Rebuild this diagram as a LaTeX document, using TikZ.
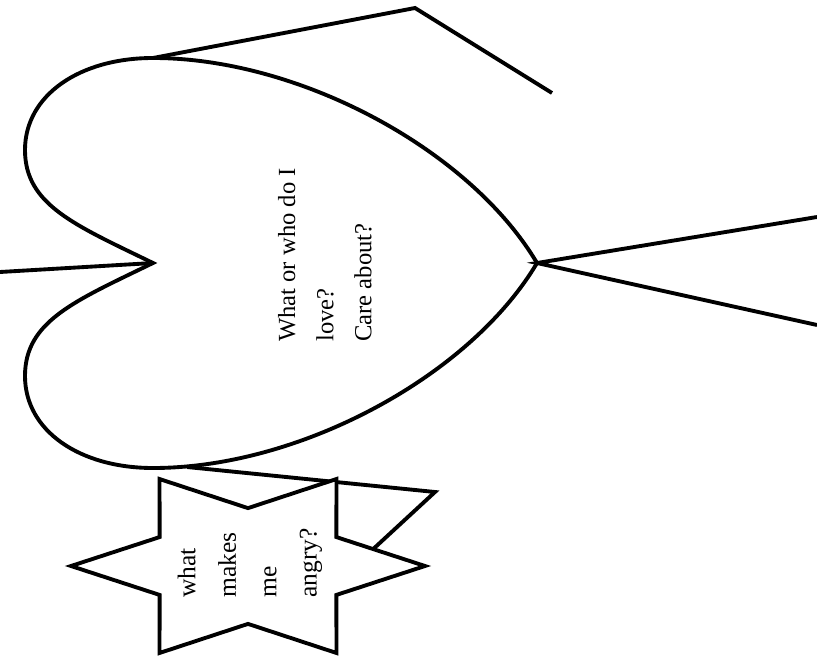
\documentclass[tikz,border=0pt]{standalone}
\usepackage{fontspec}
\setmainfont{Liberation Serif}

\begin{document}
\begin{tikzpicture}[x=0.02cm,y=-0.02cm,line width=2.2pt,
        question/.style={rotate=90,align=left,font=\fontsize{14.5}{23}\selectfont}]
        \useasboundingbox (0,0) rectangle (817,655);
        % heart lying on its side
        \coordinate (notch) at (153,263);
        \coordinate (tip) at (537,263);
        \coordinate (top) at (153,58);
        \coordinate (bot) at (153,468);
        \draw (notch) .. controls (75,225) and (25,205) .. (25,150)
            .. controls (25,95) and (80,58) .. (top)
            .. controls (300,58) and (470,150) .. (tip)
            .. controls (470,376) and (300,468) .. (bot)
            .. controls (80,468) and (25,431) .. (25,376)
            .. controls (25,321) and (75,301) .. (notch) -- cycle;
        \node[question,font=\fontsize{14}{21.7}\selectfont] (love) at (325,255)
            {What or who do I\\love?\\Care about?};
        % loose ends
        \coordinate (west) at (0,272);
        \coordinate (nbend) at (415,8);
        \coordinate (nend) at (552,93);
        \coordinate (eup) at (817,217);
        \coordinate (edown) at (817,325);
        \coordinate (sfoot) at (187,467);
        \coordinate (sbend) at (435,492);
        \coordinate (send) at (370,552);
        \draw (west) -- (notch);
        \draw (top) -- (nbend) -- (nend);
        \draw (eup) -- (tip) -- (edown);
        \draw (sfoot) -- (sbend) -- (send);
        % star
        \draw[fill=white,shift={(248,566)},yscale=0.5675]
            (0:177) \foreach \a in {30,90,...,330} {-- (\a:102) -- (\a+30:177)} -- cycle;
        \node[question] (angry) at (250,563) {what\\makes\\me\\angry?};
    \end{tikzpicture}
\end{document}
